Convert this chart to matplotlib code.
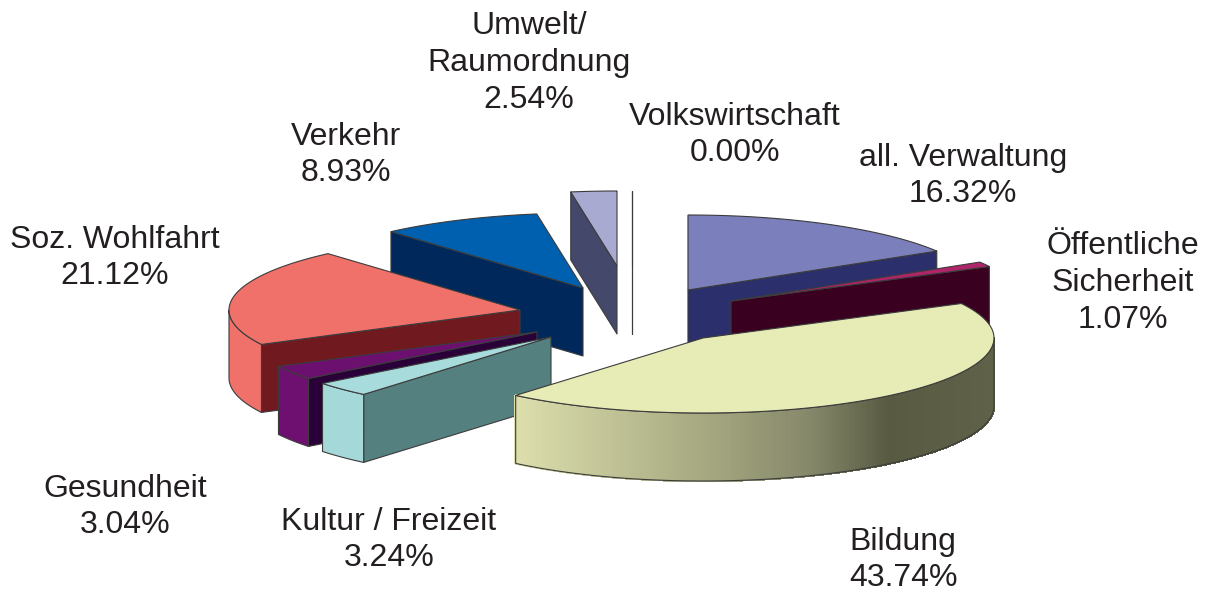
import numpy as np
import matplotlib
matplotlib.use('Agg')
import matplotlib.pyplot as plt
from matplotlib.colors import LinearSegmentedColormap
from matplotlib.patches import Polygon

# clockwise from 12 o'clock
names = ['all. Verwaltung', 'Öffentliche\nSicherheit', 'Bildung', 'Kultur / Freizeit', 'Gesundheit',
         'Soz. Wohlfahrt', 'Verkehr', 'Umwelt/\nRaumordnung', 'Volkswirtschaft']
shares = [16.32, 1.07, 43.74, 3.24, 3.04, 21.12, 8.93, 2.54, 0.00]

top_colors = ['#7b7fbb', '#b0246a', '#e7ebb5', '#a8dcdc', '#6c1070', '#f0706a', '#0060b0', '#a8aad2', '#b0b0b0']
face_colors = ['#2b2f6b', '#3a0020', '#e7ebb5', '#548080', '#2a0038', '#701a20', '#00285a', '#44486a', '#b0b0b0']
rim_colors = ['#2b2f6b', '#3a0020', None, '#a5d9d9', '#6e1070', '#f0706a', '#00285a', '#44486a', '#b0b0b0']

# where each exploded slice has its tip, in pixels
tip_x = [688, 731, 703, 551, 537, 520, 583, 617, 632]
tip_y = [290, 301, 338, 337, 332, 310, 288, 266, 266]
label_x = [963, 1123, 903, 389, 125, 115, 346, 529, 735]
label_y = [176, 283, 560, 540, 507, 258, 155, 63, 135]

rx, ry, depth = 291, 75, 68
edge = '#3c3c3c'

gradient = LinearSegmentedColormap.from_list('bildung', [(0, '#dcdeac'), (0.4, '#a5a880'), (0.62, '#85876a'),
                                                         (0.78, '#585b42'), (1, '#5f6148')])


def rim_point(cx, cy, t):
    return np.column_stack([cx + rx * np.sin(t), cy - ry * np.cos(t)])


def draw_side(pts, color, lw=0.8):
    low = pts + [0, depth]
    ax.add_patch(Polygon(np.vstack([pts, low[::-1]]), facecolor=color, edgecolor=edge, lw=lw, joinstyle='round'))


fig = plt.figure(figsize=(12.08, 5.93), dpi=100)
ax = fig.add_axes([0, 0, 1, 1])
ax.set_xlim(0, 1208)
ax.set_ylim(593, 0)
ax.axis('off')

edges = np.cumsum([0] + shares) / sum(shares) * 2 * np.pi

# back to front
for i in np.argsort(tip_y, kind='stable'):
    cx, cy = tip_x[i], tip_y[i]
    t0, t1 = edges[i], edges[i + 1]
    tip = np.array([[cx, cy]])
    if np.sin(t0) < 1e-9:
        draw_side(np.vstack([tip, rim_point(cx, cy, np.array([t0]))]), face_colors[i])
    if np.sin(t1) > 1e-9:
        draw_side(np.vstack([tip, rim_point(cx, cy, np.array([t1]))]), face_colors[i])
    # outer wall, only the part facing us
    a = max(t0, np.pi / 2)
    b = min(t1, 3 * np.pi / 2)
    if b > a:
        ts = np.linspace(a, b, 200)
        arc = rim_point(cx, cy, ts)
        if rim_colors[i] is None:
            x0, x1 = arc[:, 0].min(), arc[:, 0].max()
            for j in range(len(ts) - 1):
                c = gradient((arc[j, 0] - x0) / (x1 - x0))
                q = np.vstack([arc[j:j + 2], arc[j:j + 2][::-1] + [0, depth]])
                ax.add_patch(Polygon(q, facecolor=c, edgecolor=c, lw=1.0, antialiased=False))
            ax.add_patch(Polygon(np.vstack([arc, arc[::-1] + [0, depth]]), fill=False, edgecolor=edge, lw=0.8))
        else:
            draw_side(arc, rim_colors[i])
    ts = np.linspace(t0, t1, 120)
    ax.add_patch(Polygon(np.vstack([tip, rim_point(cx, cy, ts)]), facecolor=top_colors[i], edgecolor=edge, lw=0.8))

for n, s, x, y in zip(names, shares, label_x, label_y):
    ax.text(x, y, '%s\n%.2f%%' % (n, s), ha='center', va='center', multialignment='center',
            fontsize=23, family='Liberation Sans', color='#231f20', linespacing=1.3)

plt.savefig('out.png', dpi=100)
